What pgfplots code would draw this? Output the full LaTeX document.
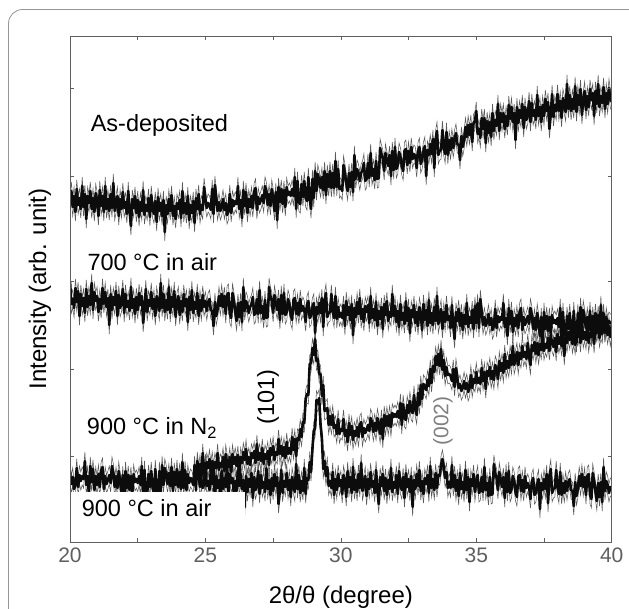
\documentclass[border=0pt]{standalone}
\usepackage{fontspec}
\setmainfont{Liberation Sans}
\usepackage{pgfplots}
\usepackage{pgfplotstable}
\pgfplotsset{compat=1.18}
\definecolor{tickgray}{RGB}{95,95,95}
\definecolor{framegray}{RGB}{150,150,150}
\definecolor{tracecol}{RGB}{12,12,12}
\definecolor{spikecol}{RGB}{90,90,90}

% x = 2theta; A = as-deposited, B = 700 C air, C = 900 C N2, D = 900 C air
% intensities in plot units (axis reversed, smaller = higher)
\pgfplotstableread{
x A B C D
20.00 203 281 nan 473
20.05 191 304 nan 484
20.10 207 299 nan 477
20.15 196 308 nan 489
20.20 212 288 nan 485
20.25 189 302 nan 468
20.30 205 291 nan 487
20.35 198 316 nan 475
20.40 209 294 nan 481
20.45 186 306 nan 476
20.50 207 298 nan 479
20.55 194 313 nan 461
20.60 219 289 nan 485
20.65 196 307 nan 476
20.70 203 296 nan 494
20.75 191 305 nan 466
20.80 209 283 nan 482
20.85 198 310 nan 469
20.90 212 292 nan 490
20.95 193 301 nan 476
21.00 201 296 nan 485
21.05 216 312 nan 474
21.10 190 299 nan 487
21.15 206 309 nan 471
21.20 196 288 nan 467
21.25 212 304 nan 489
21.30 186 292 nan 476
21.35 209 307 nan 484
21.40 199 298 nan 480
21.45 211 325 nan 475
21.50 194 294 nan 483
21.55 208 310 nan 466
21.60 183 297 nan 473
21.65 211 305 nan 487
21.70 204 291 nan 476
21.75 196 316 nan 488
21.80 216 295 nan 471
21.85 199 308 nan 481
21.90 209 303 nan 494
21.95 192 289 nan 475
22.00 208 313 nan 504
22.05 202 294 nan 471
22.10 214 307 nan 488
22.15 191 301 nan 475
22.20 211 311 nan 490
22.25 226 287 nan 476
22.30 199 308 nan 493
22.35 208 299 nan 474
22.40 196 314 nan 482
22.45 213 297 nan 479
22.50 200 310 nan 483
22.55 217 293 nan 476
22.60 202 305 nan 485
22.65 211 296 nan 466
22.70 190 323 nan 498
22.75 215 309 nan 470
22.80 205 289 nan 491
22.85 211 312 nan 494
22.90 198 300 nan 474
22.95 217 306 nan 487
23.00 195 292 nan 471
23.05 209 309 nan 488
23.10 214 299 nan 493
23.15 201 316 nan 469
23.20 222 296 nan 490
23.25 197 304 nan 501
23.30 211 311 nan 471
23.35 203 283 nan 492
23.40 216 308 nan 465
23.45 200 294 nan 485
23.50 232 312 nan 468
23.55 205 300 nan 474
23.60 214 310 nan 484
23.65 199 287 nan 473
23.70 211 313 nan 486
23.75 195 297 nan 467
23.80 216 307 nan 491
23.85 206 291 nan 472
23.90 219 317 nan 485
23.95 203 302 nan 469
24.00 209 296 nan 487
24.05 200 315 nan 472
24.10 218 301 nan 489
24.15 191 312 nan 462
24.20 213 294 nan 488
24.25 203 306 nan 470
24.30 214 299 nan 490
24.35 196 322 nan 474
24.40 220 297 nan 483
24.45 205 310 nan 478
24.50 213 290 nan 480
24.55 201 313 nan 485
24.60 223 302 472 465
24.65 198 309 479 490
24.70 209 293 465 461
24.75 194 316 475 474
24.80 214 300 464 487
24.85 205 311 478 479
24.90 210 295 453 488
24.95 187 307 470 484
25.00 199 301 481 463
25.05 208 311 462 486
25.10 203 302 468 481
25.15 205 299 459 490
25.20 210 310 471 470
25.25 189 311 461 484
25.30 214 326 473 473
25.35 185 302 462 498
25.40 198 316 468 476
25.45 211 309 453 488
25.50 202 296 470 480
25.55 211 306 463 495
25.60 207 294 467 471
25.65 199 307 457 489
25.70 210 296 471 478
25.75 203 314 454 487
25.80 215 295 463 465
25.85 211 293 467 492
25.90 194 314 457 474
25.95 213 318 472 483
26.00 200 293 454 478
26.05 206 301 464 494
26.10 201 311 457 481
26.15 204 321 466 491
26.20 186 303 455 470
26.25 209 317 476 486
26.30 200 302 457 474
26.35 218 322 463 489
26.40 190 287 452 480
26.45 206 311 460 507
26.50 192 301 449 476
26.55 213 305 464 492
26.60 199 313 457 479
26.65 207 307 465 487
26.70 196 304 453 473
26.75 208 297 458 498
26.80 192 315 451 477
26.85 188 313 463 490
26.90 210 299 444 485
26.95 197 314 460 471
27.00 204 290 453 494
27.05 200 313 461 475
27.10 195 306 448 488
27.15 203 319 464 482
27.20 186 300 454 492
27.25 191 318 459 468
27.30 205 317 451 489
27.35 194 287 465 480
27.40 206 296 448 495
27.45 189 301 455 478
27.50 198 313 446 491
27.55 211 295 460 474
27.60 192 303 452 486
27.65 220 310 455 477
27.70 187 299 439 504
27.75 202 320 454 490
27.80 189 295 446 470
27.85 204 314 456 493
27.90 190 293 447 481
27.95 207 315 458 487
28.00 187 312 442 473
28.05 195 299 454 490
28.10 192 304 448 480
28.15 196 315 454 497
28.20 189 320 437 477
28.25 196 300 450 485
28.30 177 298 439 492
28.35 209 314 456 464
28.40 181 303 438 489
28.45 202 315 440 475
28.50 204 299 429 493
28.55 184 311 437 481
28.60 197 306 422 491
28.65 181 310 423 468
28.70 198 322 399 494
28.75 201 305 394 478
28.80 177 301 395 480
28.85 198 318 364 462
28.90 209 316 363 472
28.95 179 307 348 449
29.00 198 303 355 431
29.05 171 333 339 428
29.10 191 307 361 400
29.15 174 314 359 403
29.20 180 303 374 398
29.25 188 313 374 425
29.30 177 298 396 438
29.35 190 327 385 469
29.40 171 301 411 461
29.45 195 293 410 476
29.50 174 317 408 467
29.55 187 313 425 486
29.60 171 312 416 481
29.65 188 294 425 488
29.70 173 311 415 472
29.75 188 318 428 495
29.80 161 296 425 479
29.85 187 319 434 490
29.90 169 307 419 474
29.95 189 317 434 486
30.00 187 313 429 480
30.05 191 318 431 494
30.10 165 305 419 475
30.15 173 326 436 482
30.20 183 301 430 497
30.25 191 315 442 471
30.30 173 307 423 487
30.35 187 320 435 477
30.40 172 304 426 493
30.45 192 335 440 467
30.50 155 308 431 490
30.55 179 317 436 480
30.60 169 302 427 492
30.65 173 314 437 474
30.70 181 298 425 488
30.75 173 319 422 463
30.80 170 309 437 491
30.85 163 322 428 484
30.90 181 306 433 476
30.95 179 312 430 496
31.00 163 305 425 479
31.05 178 323 431 489
31.10 153 296 418 472
31.15 176 318 422 487
31.20 169 309 432 481
31.25 180 320 423 493
31.30 161 302 431 470
31.35 179 326 418 490
31.40 178 311 425 504
31.45 148 319 434 477
31.50 154 307 419 486
31.55 159 329 439 474
31.60 171 304 415 491
31.65 153 315 426 478
31.70 161 301 416 495
31.75 166 321 426 480
31.80 155 312 415 489
31.85 176 317 427 468
31.90 151 294 413 492
31.95 170 316 417 482
32.00 147 306 414 488
32.05 169 322 417 475
32.10 165 311 411 494
32.15 152 327 418 471
32.20 157 304 403 485
32.25 166 320 425 490
32.30 171 313 404 477
32.35 151 324 418 498
32.40 149 301 420 473
32.45 165 321 405 487
32.50 151 308 413 479
32.55 163 333 401 492
32.60 147 310 411 476
32.65 159 317 413 507
32.70 154 305 395 480
32.75 156 323 408 489
32.80 168 312 415 474
32.85 151 326 393 486
32.90 147 307 405 470
32.95 164 314 385 491
33.00 160 330 399 481
33.05 151 304 384 494
33.10 146 320 386 478
33.15 176 310 390 484
33.20 150 326 380 475
33.25 155 300 386 493
33.30 144 323 369 466
33.35 154 313 383 488
33.40 139 325 366 479
33.45 168 307 372 490
33.50 139 321 356 473
33.55 131 296 365 488
33.60 155 324 354 475
33.65 151 317 366 476
33.70 150 309 349 465
33.75 130 329 370 459
33.80 147 312 360 467
33.85 154 322 376 478
33.90 132 305 367 472
33.95 155 320 375 488
34.00 140 316 374 482
34.05 150 328 376 488
34.10 138 305 381 465
34.15 148 325 369 487
34.20 139 339 387 475
34.25 133 312 368 491
34.30 144 321 378 480
34.35 145 309 388 496
34.40 160 326 384 473
34.45 136 313 391 489
34.50 147 330 388 482
34.55 140 315 381 493
34.60 127 324 389 470
34.65 137 303 383 490
34.70 125 327 392 477
34.75 135 317 388 502
34.80 124 323 375 479
34.85 142 310 388 486
34.90 123 329 379 474
34.95 121 306 383 492
35.00 111 323 372 482
35.05 134 303 383 475
35.10 129 328 378 493
35.15 138 299 384 491
35.20 118 312 368 477
35.25 129 325 381 492
35.30 118 317 372 467
35.35 143 326 389 490
35.40 121 322 371 483
35.45 133 314 376 496
35.50 122 325 367 477
35.55 137 318 379 495
35.60 113 330 371 494
35.65 131 326 380 464
35.70 120 309 365 473
35.75 126 328 369 478
35.80 104 316 379 490
35.85 131 322 361 472
35.90 113 317 371 480
35.95 122 320 363 487
36.00 113 303 373 477
36.05 129 327 354 498
36.10 116 318 369 473
36.15 126 336 361 492
36.20 105 308 368 471
36.25 119 324 355 493
36.30 107 311 365 489
36.35 122 332 346 476
36.40 113 318 365 481
36.45 140 326 359 492
36.50 107 315 352 497
36.55 123 328 365 477
36.60 110 312 353 475
36.65 118 308 359 491
36.70 104 330 346 480
36.75 128 317 357 492
36.80 107 325 352 476
36.85 120 321 359 488
36.90 115 316 343 483
36.95 101 324 356 487
37.00 122 308 365 499
37.05 103 315 345 482
37.10 116 329 351 478
37.15 110 318 342 495
37.20 120 330 354 493
37.25 95 313 343 484
37.30 116 323 355 479
37.35 107 336 344 509
37.40 122 317 350 483
37.45 105 345 334 490
37.50 116 312 351 479
37.55 99 329 344 489
37.60 111 316 348 474
37.65 102 331 338 503
37.70 129 317 351 477
37.75 114 334 335 469
37.80 94 315 343 493
37.85 117 323 347 489
37.90 105 320 338 488
37.95 111 324 352 470
38.00 94 318 334 487
38.05 111 327 344 494
38.10 101 308 337 472
38.15 118 340 346 495
38.20 98 312 335 483
38.25 105 333 356 493
38.30 112 336 337 481
38.35 84 316 343 491
38.40 109 329 332 482
38.45 95 313 340 479
38.50 111 330 329 490
38.55 99 335 344 491
38.60 109 311 336 506
38.65 86 332 345 482
38.70 112 343 333 496
38.75 95 313 337 489
38.80 105 334 330 476
38.85 89 307 343 486
38.90 115 327 323 474
38.95 100 310 339 487
39.00 91 318 332 477
39.05 110 328 340 495
39.10 96 317 326 476
39.15 107 330 343 474
39.20 89 311 333 495
39.25 100 335 337 499
39.30 93 316 329 473
39.35 116 329 344 481
39.40 91 313 326 491
39.45 104 330 333 501
39.50 84 315 324 483
39.55 107 332 338 497
39.60 96 305 330 482
39.65 103 331 334 502
39.70 87 313 318 467
39.75 109 333 332 491
39.80 93 317 324 481
39.85 104 326 335 485
39.90 88 321 326 493
39.95 99 323 337 487
40.00 102 323 327 488
}\xrd

\begin{document}
\begin{tikzpicture}
\useasboundingbox (0pt,0pt) rectangle (629pt,609pt);
% panel frame (cut by the page edge on the right and bottom)
\draw[framegray, line width=0.8pt, rounded corners=14pt]
  (8.5pt,-30pt) -- (8.5pt,599.5pt) -- (660pt,599.5pt);
\begin{axis}[
  at={(70pt,67pt)}, anchor=south west,
  scale only axis, width=541.7pt, height=506pt,
  xmin=20, xmax=40, ymin=36, ymax=542, y dir=reverse,
  xtick={20,25,30,35,40}, minor x tick num=1,
  ytick={88,176,281,369,456}, yticklabels={},
  tick align=inside, major tick length=4pt, minor tick length=4pt,
  axis line style={tickgray, line width=0.8pt},
  tick style={tickgray, line width=0.6pt},
  tick label style={font=\fontsize{21}{24}\selectfont, text=tickgray},
  xticklabel style={yshift=-2pt},
  /pgf/number format/assume math mode=true,
  xlabel={2θ/θ (degree)},
  ylabel={Intensity (arb. unit)},
  label style={font=\fontsize{24}{28}\selectfont},
  xlabel style={at={(axis description cs:0.5,-0.1087)}, anchor=center},
  ylabel style={at={(axis description cs:-0.0554,0.5)}, anchor=center},
  axis on top,
  xrdline/.style={tracecol, line width=2.6pt, line join=round},
  spike/.style={spikecol, line width=0.55pt},
]
% thin grey fringe of the dense scans, then the black core
\foreach \col in {B,A,C,D} {
  \addplot[spike, yshift=9pt] table[x=x, y=\col] {\xrd};
  \addplot[spike, yshift=-9pt] table[x=x, y=\col] {\xrd};
}
\addplot[xrdline] table[x=x, y=B] {\xrd};
\addplot[xrdline] table[x=x, y=A] {\xrd};
\addplot[xrdline] table[x=x, y=C] {\xrd};
\addplot[xrdline] table[x=x, y=D] {\xrd};
% white label box over the lower-left corner
\fill[white] (axis cs:20,492) rectangle (axis cs:26.46,542);
\begin{scope}[every node/.style={inner sep=0pt, font=\fontsize{23.5}{28}\selectfont}]
\node[anchor=base west] at (axis cs:20.76,131.7) {As-deposited};
\node[anchor=base west] at (axis cs:20.64,270.7) {700 °C in air};
\node[anchor=base west] at (axis cs:20.62,435) {900 °C in N\textsubscript{2}};
\node[anchor=base west] at (axis cs:20.43,516.7) {900 °C in air};
\node[rotate=90] at (axis cs:27.31,397) {(101)};
\node[rotate=90, text=gray, font=\fontsize{21}{25}\selectfont] at (axis cs:33.77,421) {(002)};
\end{scope}
\end{axis}
\end{tikzpicture}
\end{document}
